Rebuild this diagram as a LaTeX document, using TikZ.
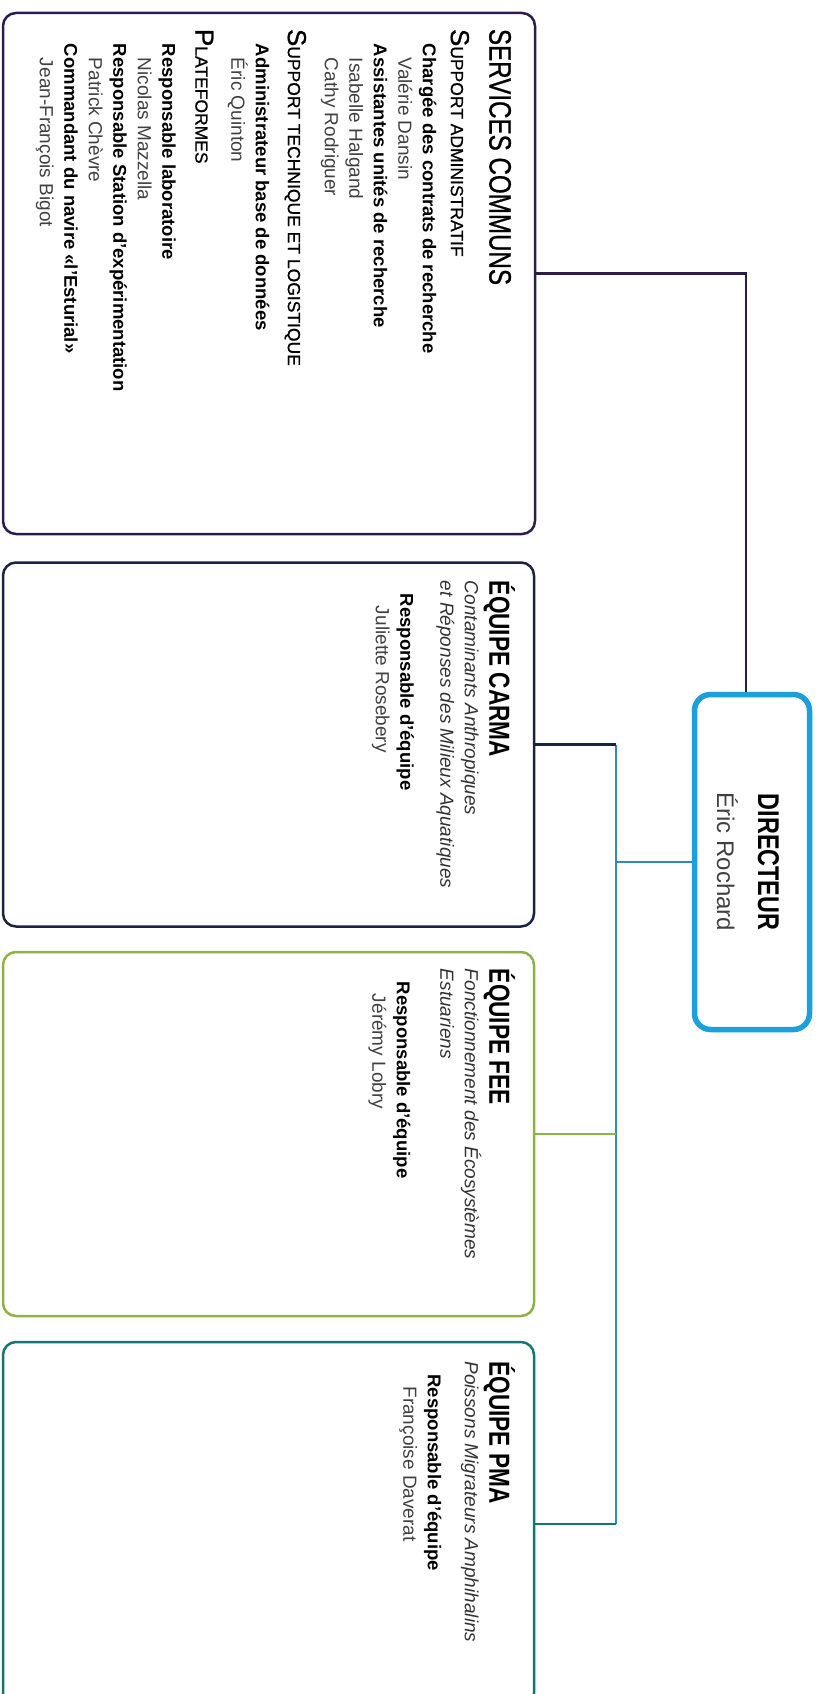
\documentclass[tikz,border=0pt]{standalone}
\usepackage{fontspec}
\setmainfont{Liberation Sans}
\newfontfamily\headfont{Liberation Sans}[FakeStretch=0.78]
\newfontfamily\medfont{Liberation Sans}[FakeStretch=0.78, FakeBold=0.8]
\newfontfamily\capfont{Liberation Sans}[FakeBold=0.8]
\usepackage{tikz}

\definecolor{svpurple}{RGB}{46,27,78}
\definecolor{carmanavy}{RGB}{24,36,66}
\definecolor{feegreen}{RGB}{143,178,68}
\definecolor{pmateal}{RGB}{22,117,112}
\definecolor{dirblue}{RGB}{27,160,220}
\definecolor{trunkblue}{RGB}{40,140,195}

\newcommand{\smallhead}[2]{{\capfont{\fontsize{26}{26}\selectfont #1}{\fontsize{17.5}{24.5}\selectfont #2}}}
\newcommand{\team}[1]{{\headfont\bfseries\fontsize{29}{29}\selectfont #1}}
\newcommand{\desc}[1]{{\fontsize{19}{24.5}\selectfont\itshape\color{black!80}#1}}
\newcommand{\who}[1]{{\fontsize{19}{24.5}\selectfont\color{black!75}#1}}

\tikzset{
	box/.style={draw, rounded corners=13pt, line width=2.5pt, minimum width=531pt, minimum height=364pt, inner sep=0pt},
	link/.style={line width=2.5pt},
	txt/.style={rotate=-90, anchor=north west, align=left, inner sep=0pt, font=\fontsize{18.5}{24.5}\selectfont},
}

\begin{document}
\begin{tikzpicture}[x=1pt, y=-1pt]
		\useasboundingbox (0,0) rectangle (822,1694);
		\clip (0,0) rectangle (822,1694);
		\node[box, draw=svpurple, minimum width=532pt, minimum height=521pt] (services) at (269,273.5) {};
		\foreach \n/\c/\y in {carma/carmanavy/744.5, fee/feegreen/1134, pma/pmateal/1524}
		\node[box, draw=\c] (\n) at (268.5,\y) {};
		\node[box, draw=dirblue, line width=5.5pt, rounded corners=16pt, minimum width=115pt, minimum height=335pt] (dir) at (752,862) {};
		\coordinate (trunk) at (616,0);
		\draw[link, color=svpurple] (services.east) -| ([xshift=-6pt]dir.north);
		\draw[link, color=trunkblue] (dir.west) -- (dir.west -| trunk);
		\draw[link, color=trunkblue] (carma.east -| trunk) -- (pma.east -| trunk);
		\foreach \n/\c in {carma/carmanavy, fee/feegreen, pma/pmateal}
		\draw[link, color=\c] (\n.east) -- (\n.east -| trunk);
		\node[rotate=-90, align=center, inner sep=0pt, font=\fontsize{24}{30}\selectfont] (dir text) at ([xshift=-4pt]dir.center)
		{{\headfont\bfseries\fontsize{30}{30}\selectfont DIRECTEUR}\\[11pt]{\color{black!75}Éric Rochard}};
		\node[txt] (services text) at ([xshift=-25pt, yshift=-17pt]services.north east) {
			{\medfont\fontsize{31}{31}\selectfont SERVICES COMMUNS}\\[14pt]
			\smallhead{S}{UPPORT ADMINISTRATIF}\\[3.5pt]
			\hspace*{15pt}\textbf{Chargée des contrats de recherche}\\
			\hspace*{29pt}\who{Valérie Dansin}\\
			\hspace*{15pt}\textbf{Assistantes unités de recherche}\\
			\hspace*{29pt}\who{Isabelle Halgand}\\
			\hspace*{29pt}\who{Cathy Rodriguer}\\[12.5pt]
			\smallhead{S}{UPPORT TECHNIQUE ET LOGISTIQUE}\\[7.5pt]
			\hspace*{15pt}\textbf{Administrateur base de données}\\
			\hspace*{29pt}\who{Éric Quinton}\\[11.5pt]
			\smallhead{P}{LATEFORMES}\\[8.5pt]
			\hspace*{15pt}\textbf{Responsable laboratoire}\\
			\hspace*{29pt}\who{Nicolas Mazzella}\\
			\hspace*{15pt}\textbf{Responsable Station d’expérimentation}\\
			\hspace*{29pt}\who{Patrick Chèvre}\\
			\hspace*{15pt}\textbf{Commandant du navire «l’Esturial»}\\
			\hspace*{29pt}\who{Jean-François Bigot}
		};
		\node[txt] (carma text) at ([xshift=-20pt, yshift=-19.5pt]carma.north east) {
			\team{ÉQUIPE CARMA}\\
			\desc{Contaminants Anthropiques}\\
			\desc{et Réponses des Milieux Aquatiques}\\[15.5pt]
			\hspace*{13pt}\textbf{Responsable d’équipe}\\
			\hspace*{25pt}\who{Juliette Rosebery}
		};
		\node[txt] (fee text) at ([xshift=-20pt, yshift=-18pt]fee.north east) {
			\team{ÉQUIPE FEE}\\
			\desc{Fonctionnement des Écosystèmes}\\
			\desc{Estuariens}\\[19pt]
			\hspace*{13pt}\textbf{Responsable d’équipe}\\
			\hspace*{25pt}\who{Jérémy Lobry}
		};
		\node[txt] (pma text) at ([xshift=-20pt, yshift=-20.5pt]pma.north east) {
			\team{ÉQUIPE PMA}\\
			\desc{Poissons Migrateurs Amphihalins}\\[12.5pt]
			\hspace*{13pt}\textbf{Responsable d’équipe}\\
			\hspace*{25pt}\who{Françoise Daverat}
		};
	\end{tikzpicture}
\end{document}
